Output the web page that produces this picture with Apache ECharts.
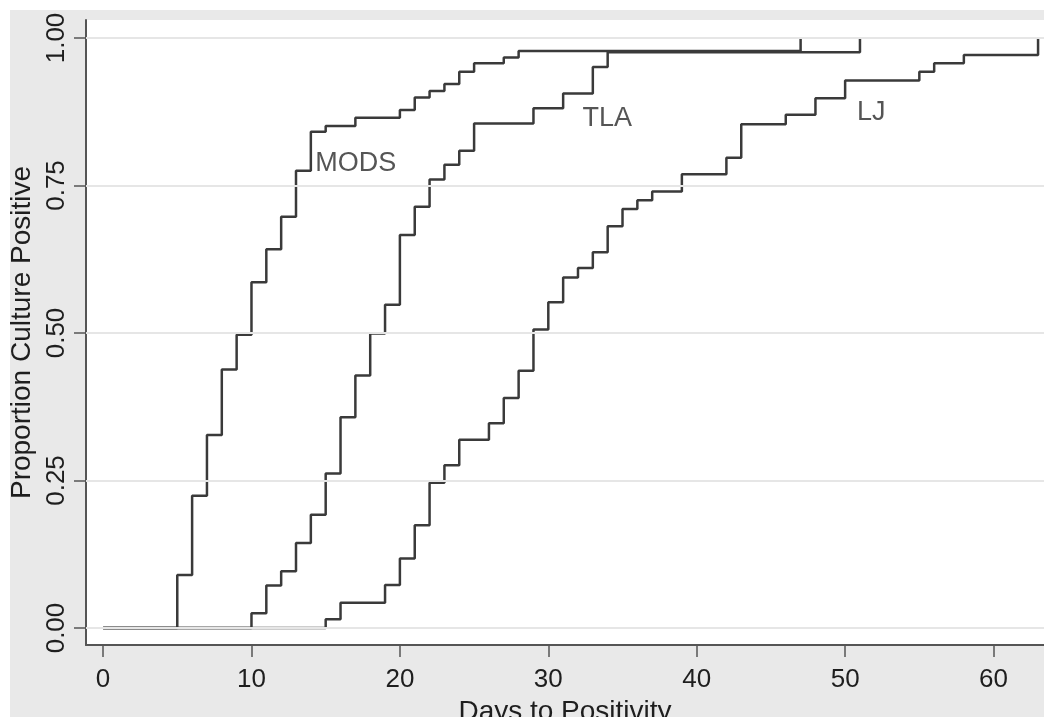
<!DOCTYPE html>
<html>
<head>
<meta charset="utf-8">
<script src="https://cdn.jsdelivr.net/npm/echarts@6/dist/echarts.min.js"></script>
<style>
  html, body { margin: 0; padding: 0; background: #fff; }
  #chart { position: absolute; left: 10px; top: 10px; width: 1034px; height: 707px; background: #e9e9e9; }
</style>
</head>
<body>
<div id="chart"></div>
<script>
// days (x) and cumulative proportion positive (y)
var modsDays = [0, 5, 6, 7, 8, 9, 10, 11, 12, 13, 14, 15, 17, 20, 21, 22, 23, 24, 25, 27, 28, 47];
var modsProp = [0, 0.090, 0.224, 0.327, 0.438, 0.497, 0.586, 0.642, 0.697, 0.775, 0.841, 0.851, 0.865, 0.878, 0.899, 0.910, 0.922, 0.943, 0.957, 0.967, 0.978, 1.0];

var tlaDays = [0, 10, 11, 12, 13, 14, 15, 16, 17, 18, 19, 20, 21, 22, 23, 24, 25, 29, 31, 33, 34, 51];
var tlaProp = [0, 0.025, 0.072, 0.096, 0.144, 0.192, 0.262, 0.357, 0.428, 0.499, 0.548, 0.666, 0.714, 0.760, 0.785, 0.809, 0.855, 0.881, 0.906, 0.951, 0.976, 1.0];

var ljDays = [0, 15, 16, 19, 20, 21, 22, 23, 24, 26, 27, 28, 29, 30, 31, 32, 33, 34, 35, 36, 37, 39, 42, 43, 46, 48, 50, 55, 56, 58, 63];
var ljProp = [0, 0.015, 0.043, 0.073, 0.118, 0.174, 0.246, 0.276, 0.319, 0.347, 0.390, 0.436, 0.506, 0.552, 0.594, 0.610, 0.637, 0.681, 0.710, 0.725, 0.740, 0.769, 0.797, 0.854, 0.870, 0.898, 0.928, 0.943, 0.957, 0.971, 1.0];

// curve labels
var labelNames = ['MODS', 'TLA', 'LJ'];
var labelX = [14.3, 32.3, 50.8];
var labelY = [0.788, 0.863, 0.873];

// tick labels
var xTicks = [0, 10, 20, 30, 40, 50, 60];
var yTicks = [0, 0.25, 0.5, 0.75, 1];

function pairs(xs, ys) {
  return xs.map(function (x, i) { return [x, ys[i]]; });
}

var chart = echarts.init(document.getElementById('chart'));

var lineStyle = { color: '#3a3a3a', width: 2.5 };
var axisColor = '#555';
var font = 'Liberation Sans, Arial, sans-serif';

var option = {
  animation: false,
  grid: {
    show: true,
    left: 76,
    top: 10,
    right: 0,
    bottom: 72,
    outerBoundsMode: 'none',
    containLabel: false,
    backgroundColor: '#fff',
    borderWidth: 0
  },
  xAxis: {
    type: 'value',
    min: -1.15,
    max: 63.4,
    name: 'Days to Positivity',
    nameLocation: 'middle',
    nameGap: 42,
    nameTextStyle: { fontFamily: font, fontSize: 28, color: '#1e1e1e' },
    axisLine: { show: true, onZero: false, lineStyle: { color: axisColor, width: 2 } },
    axisTick: { show: true, length: 12, customValues: xTicks, lineStyle: { color: axisColor, width: 1.5 } },
    axisLabel: {
      customValues: xTicks,
      margin: 22,
      fontFamily: font,
      fontSize: 26,
      color: '#1e1e1e'
    },
    splitLine: { show: false }
  },
  yAxis: {
    type: 'value',
    min: -0.0288,
    max: 1.0305,
    name: 'Proportion Culture Positive',
    nameLocation: 'middle',
    nameGap: 44,
    nameTextStyle: { fontFamily: font, fontSize: 28, color: '#1e1e1e' },
    axisLine: { show: true, onZero: false, lineStyle: { color: axisColor, width: 2 } },
    axisTick: { show: true, length: 12, customValues: yTicks, lineStyle: { color: axisColor, width: 1.5 } },
    axisLabel: {
      customValues: yTicks,
      rotate: 90,
      margin: 16,
      fontFamily: font,
      fontSize: 26,
      color: '#1e1e1e',
      formatter: function (v) { return v.toFixed(2); }
    },
    splitLine: { show: false }
  },
  series: [
    {
      // horizontal grid lines under the curves
      type: 'line',
      data: [],
      z: 1,
      markLine: {
        silent: true,
        symbol: ['none', 'none'],
        label: { show: false },
        lineStyle: { color: '#e6e6e6', width: 2, type: 'solid' },
        data: yTicks.map(function (v) { return { yAxis: v }; })
      }
    },
    {
      name: 'MODS',
      type: 'line',
      step: 'end',
      showSymbol: false,
      z: 3,
      lineStyle: lineStyle,
      data: pairs(modsDays, modsProp)
    },
    {
      name: 'TLA',
      type: 'line',
      step: 'end',
      showSymbol: false,
      z: 3,
      lineStyle: lineStyle,
      data: pairs(tlaDays, tlaProp)
    },
    {
      name: 'LJ',
      type: 'line',
      step: 'end',
      showSymbol: false,
      z: 3,
      lineStyle: lineStyle,
      data: pairs(ljDays, ljProp)
    },
    {
      type: 'scatter',
      symbolSize: 0,
      z: 4,
      silent: true,
      label: {
        show: true,
        position: 'right',
        distance: 0,
        fontFamily: font,
        fontSize: 27,
        color: '#2a2a2a',
        formatter: function (p) { return labelNames[p.dataIndex]; }
      },
      data: pairs(labelX, labelY)
    }
  ]
};

chart.setOption(option);
</script>
</body>
</html>
